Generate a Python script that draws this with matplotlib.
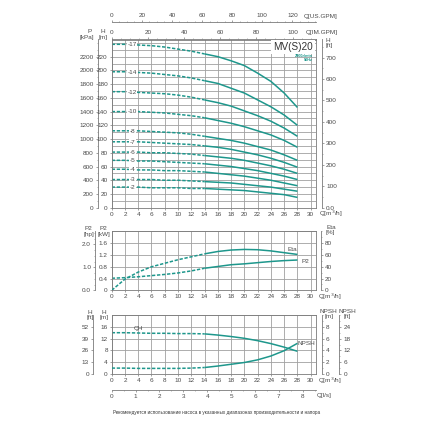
import matplotlib
matplotlib.use('Agg')
import matplotlib.pyplot as plt
import numpy as np

# flow points, m3/h
q = [0, 2, 4, 6, 8, 10, 12, 14, 16, 18, 20, 22, 24, 26, 28]

# head curves [m], one per number of stages
h17 = [238, 238, 237, 236, 234, 231, 228, 224, 220, 214, 207, 196, 184, 167, 146]
h14 = [198, 198, 197, 196, 194, 192, 189, 185, 181, 174, 167, 157, 147, 135, 120]
h12 = [169, 169, 168, 167, 166, 164, 161, 157, 153, 148, 141, 134, 126, 116, 104]
h10 = [140, 140, 140, 139, 138, 136, 134, 131, 127, 123, 118, 112, 106, 98, 88]
h8 = [112, 112, 112, 111, 110, 109, 107, 104, 101, 98, 94, 89, 84, 77, 69]
h7 = [96, 96, 96, 95, 94, 93, 92, 90, 88, 85, 81, 77, 72, 66, 59]
h6 = [81, 81, 81, 80, 80, 79, 78, 76, 74, 72, 69, 65, 61, 56, 50]
h5 = [69, 69, 68, 68, 67, 66, 65, 64, 62, 60, 57, 54, 50, 46, 41]
h4 = [56, 56, 55, 55, 54, 54, 53, 52, 50, 48, 46, 43, 40, 36, 32]
h3 = [41, 41, 41, 41, 40, 40, 39, 38, 37, 36, 34, 32, 30, 27, 24]
h2 = [30, 30, 30, 29, 29, 29, 28, 28, 27, 26, 25, 23, 21, 19, 15]
stage_names = ['-17', '-14', '-12', '-10', '-8', '-7', '-6', '-5', '-4', '-3', '-2']
stage_heads = [h17, h14, h12, h10, h8, h7, h6, h5, h4, h3, h2]

# power and efficiency
p2 = [0.41, 0.43, 0.46, 0.50, 0.54, 0.59, 0.66, 0.75, 0.81, 0.87, 0.90, 0.94, 0.98, 1.01, 1.03]
eta = [0, 19, 31, 40, 46, 52, 57, 62, 66, 68.5, 69.5, 69, 67, 64, 61]

# one stage head and NPSH
qh = [14.0, 14.0, 13.9, 13.8, 13.8, 13.7, 13.7, 13.6, 13.2, 12.7, 12.1, 11.3, 10.3, 9.1, 7.7]
npsh = [1.0, 1.0, 0.95, 0.95, 0.95, 0.95, 1.0, 1.1, 1.35, 1.65, 1.95, 2.4, 3.05, 3.95, 5.2]

q_ticks = list(range(0, 31, 2))
split = 7  # dashed part ends at q=14

teal = '#1e978c'
grid_c = '#a0a0a0'
spine_c = '#7a7a7a'
txt_c = '#4a4a4a'
fs = 4.6

plt.rcParams['font.family'] = ['Liberation Sans', 'DejaVu Sans']
plt.rcParams['xtick.major.size'] = 1.6
plt.rcParams['ytick.major.size'] = 1.6
plt.rcParams['xtick.minor.size'] = 1.0
plt.rcParams['ytick.minor.size'] = 1.0
plt.rcParams['xtick.major.width'] = 0.5
plt.rcParams['ytick.major.width'] = 0.5
plt.rcParams['xtick.minor.width'] = 0.4
plt.rcParams['ytick.minor.width'] = 0.4
plt.rcParams['xtick.color'] = spine_c
plt.rcParams['ytick.color'] = spine_c
plt.rcParams['xtick.labelcolor'] = txt_c
plt.rcParams['ytick.labelcolor'] = txt_c
plt.rcParams['xtick.labelsize'] = fs
plt.rcParams['ytick.labelsize'] = fs
plt.rcParams['xtick.major.pad'] = 1.2
plt.rcParams['ytick.major.pad'] = 1.2
plt.rcParams['axes.linewidth'] = 0.6
plt.rcParams['axes.edgecolor'] = spine_c

W = 428.0
fig = plt.figure(figsize=(4.28, 4.28), dpi=100)


def px_axes(left, top, right, bottom):
    return fig.add_axes([left / W, 1 - bottom / W, (right - left) / W, (bottom - top) / W])


def ftext(x, y, s, **kw):
    kw.setdefault('fontsize', fs)
    kw.setdefault('color', txt_c)
    kw.setdefault('ha', 'center')
    kw.setdefault('va', 'center')
    fig.text(x / W, 1 - y / W, s, **kw)


def base(ax, ymax, yticks, ygrid):
    ax.set_xlim(0, 30.8)
    ax.set_ylim(0, ymax)
    ax.set_xticks(q_ticks)
    ax.set_yticks(yticks)
    ax.set_yticks(ygrid, minor=True)
    ax.tick_params(axis='y', which='minor', length=0)
    ax.grid(True, which='major', axis='x', color=grid_c, lw=0.6)
    ax.grid(True, which='both', axis='y', color=grid_c, lw=0.6)
    ax.set_axisbelow(True)


def sec_style(sa):
    for s in sa.spines.values():
        s.set_color(spine_c)
        s.set_linewidth(0.6)


def curve(ax, x, y):
    ax.plot(x[:split + 1], y[:split + 1], color=teal, lw=1.1, ls=(0, (2.2, 1.1)))
    ax.plot(x[split:], y[split:], color=teal, lw=1.1, solid_capstyle='butt')


# ---------- top panel: head curves ----------
ax1 = px_axes(111.7, 39.5, 316, 207.7)
base(ax1, 245, list(range(0, 221, 20)), list(range(0, 246, 10)))
ax1.set_yticklabels([str(v) for v in range(0, 221, 20)])
for name, h in zip(stage_names, stage_heads):
    curve(ax1, q, h)
    ax1.text(3.1, h[1] - 0.5, name, fontsize=fs, color=txt_c, ha='center', va='center',
             bbox=dict(facecolor='white', edgecolor='none', pad=0.4))

kpa = ax1.secondary_yaxis(-0.069, functions=(lambda y: y * 10, lambda y: y / 10))
kpa.set_yticks(list(range(0, 2201, 200)))
kpa.set_yticks(list(range(0, 2451, 100)), minor=True)
sec_style(kpa)

hft = ax1.secondary_yaxis(1.03, functions=(lambda y: y * 3.2, lambda y: y / 3.2))
hft.set_yticks(list(range(0, 701, 100)))
hft.set_yticklabels(['0.0'] + [str(v) for v in range(100, 701, 100)])
hft.set_yticks(list(range(0, 781, 50)), minor=True)
sec_style(hft)

img = ax1.secondary_xaxis('top', functions=(lambda x: x * 3.666, lambda x: x / 3.666))
img.set_xticks(list(range(0, 101, 20)))
img.set_xticks(list(range(0, 113, 5)), minor=True)
img.tick_params(pad=1.8)
sec_style(img)

usg = ax1.secondary_xaxis(1.104, functions=(lambda x: x * 4.403, lambda x: x / 4.403))
usg.set_xticks(list(range(0, 121, 20)))
usg.set_xticks(list(range(0, 136, 5)), minor=True)
usg.tick_params(pad=1.2)
sec_style(usg)

ax1.text(0.985, 0.985, 'MV(S)20', transform=ax1.transAxes, fontsize=7.2, color='#333333',
         ha='right', va='top', zorder=5,
         bbox=dict(facecolor='white', edgecolor='none', pad=1.2))
ax1.text(0.985, 0.915, '2900r/min', transform=ax1.transAxes, fontsize=2.8, color=teal,
         ha='right', va='top', weight='bold', zorder=6)
ax1.text(0.985, 0.89, '50Hz', transform=ax1.transAxes, fontsize=2.8, color=teal,
         ha='right', va='top', weight='bold', zorder=6)

ftext(89.3, 31.5, 'P')
ftext(86.5, 37, '[kPa]')
ftext(102.7, 31.5, 'H')
ftext(103, 37, '[m]')
ftext(328.3, 40.7, 'H')
ftext(329.5, 46, '[ft]')
ftext(304, 16.7, 'Q[US.GPM]', ha='left')
ftext(306, 32.3, 'Q[IM.GPM]', ha='left')
ftext(319, 214.3, 'Q[m$^3$/h]', ha='left')

# ---------- middle panel: P2 and efficiency ----------
ax2 = px_axes(111.7, 231.5, 316, 290.3)
base(ax2, 2.0, [0, 0.4, 0.8, 1.2, 1.6], [0, 0.4, 0.8, 1.2, 1.6, 2.0])
ax2.set_yticklabels(['0', '0.4', '0.8', '1.2', '1.6'])
curve(ax2, q, p2)

ax2e = ax2.twinx()
ax2e.set_ylim(0, 100)
for k in ['left', 'top', 'bottom']:
    ax2e.spines[k].set_visible(False)
ax2e.spines['right'].set_position(('outward', 3.6))
ax2e.set_yticks([0, 20, 40, 60, 80])
ax2e.set_yticks(list(range(0, 101, 10)), minor=True)
curve(ax2e, q, eta)

hp = ax2.secondary_yaxis(-0.082, functions=(lambda y: y * 1.28, lambda y: y / 1.28))
hp.set_yticks([0, 1, 2])
hp.set_yticklabels(['0.0', '1.0', '2.0'])
hp.set_yticks(np.arange(0, 2.56, 0.25), minor=True)
sec_style(hp)

ax2e.text(27.2, 69.5, 'Eta', fontsize=fs, color=txt_c, ha='center', va='center')
ax2e.text(28.6, 48.5, 'P2', fontsize=fs, color=txt_c, ha='left', va='center')

ftext(88.3, 228.8, 'P2')
ftext(88.7, 234.3, '[hp]')
ftext(103.7, 228.8, 'P2')
ftext(104, 234.3, '[kW]')
ftext(331, 227.3, 'Eta')
ftext(330, 232.7, '[%]')
ftext(318, 297.2, 'Q[m$^3$/h]', ha='left')

# ---------- bottom panel: QH and NPSH ----------
ax3 = px_axes(111.7, 315, 316, 374)
base(ax3, 20, [0, 4, 8, 12, 16], [0, 4, 8, 12, 16, 20])
curve(ax3, q, qh)

ax3n = ax3.twinx()
ax3n.set_ylim(0, 10)
for k in ['left', 'top', 'bottom']:
    ax3n.spines[k].set_visible(False)
ax3n.spines['right'].set_position(('outward', 4.0))
ax3n.set_yticks([0, 2, 4, 6, 8])
ax3n.set_yticks(list(range(0, 11, 1)), minor=True)
curve(ax3n, q, npsh)

nft = ax3n.secondary_yaxis(1.115, functions=(lambda y: y * 3, lambda y: y / 3))
nft.set_yticks([0, 6, 12, 18, 24])
nft.set_yticks(list(range(0, 31, 3)), minor=True)
sec_style(nft)

hft3 = ax3.secondary_yaxis(-0.092, functions=(lambda y: y * 3.25, lambda y: y / 3.25))
hft3.set_yticks([0, 13, 26, 39, 52])
sec_style(hft3)

lps = ax3.secondary_xaxis(-0.27, functions=(lambda x: x / 3.6, lambda x: x * 3.6))
lps.set_xticks(list(range(0, 9)))
lps.set_xticks(np.arange(0, 8.6, 0.5), minor=True)
sec_style(lps)

ax3.text(4.0, 14.6, 'QH', fontsize=fs, color=txt_c, ha='center', va='bottom')
ax3n.text(28.0, 5.15, 'NPSH', fontsize=fs, color=txt_c, ha='left', va='center')

ftext(90, 312.3, 'H')
ftext(90.3, 317, '[ft]')
ftext(104, 312.3, 'H')
ftext(104, 317, '[m]')
ftext(328.3, 311.7, 'NPSH')
ftext(329, 316.5, '[m]')
ftext(347, 311.7, 'NPSH')
ftext(347, 316.5, '[ft]')
ftext(318, 381.2, 'Q[m$^3$/h]', ha='left')
ftext(317, 395, 'Q[l/s]', ha='left')

ftext(216.7, 412.7,
      'Рекомендуется использование насоса в указанных диапазонах производительности и напора',
      fontsize=3.3, color='#333333')

fig.savefig('out.png', dpi=100)
